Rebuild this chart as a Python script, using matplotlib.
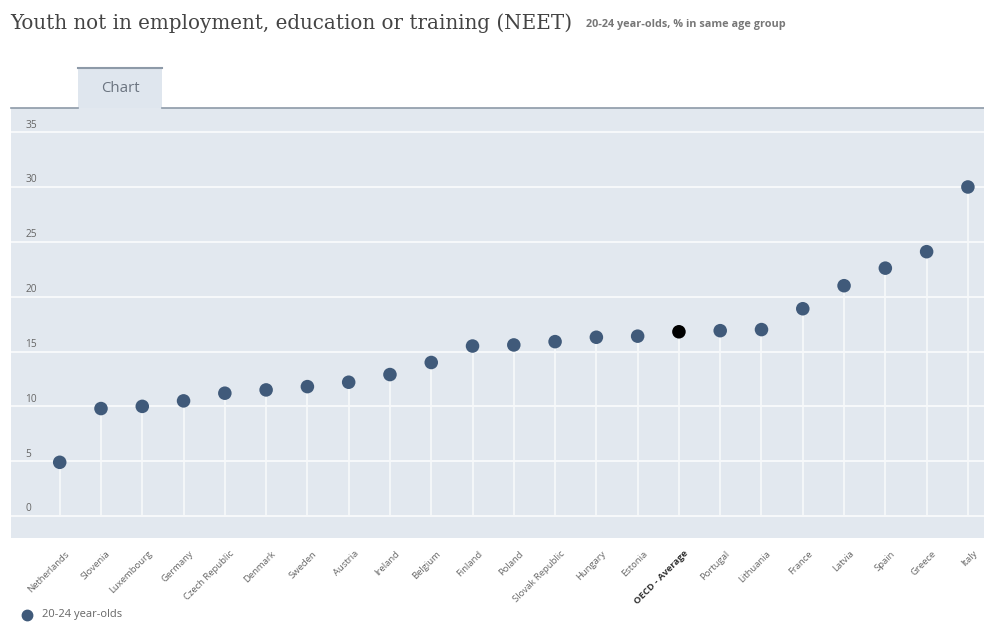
import matplotlib
matplotlib.use("Agg")
import matplotlib.pyplot as plt
from matplotlib.patches import Rectangle
from matplotlib.lines import Line2D
import matplotlib.transforms as mtransforms

# NEET rates, 20-24 year-olds (% of same age group)
countries = ["Netherlands", "Slovenia", "Luxembourg", "Germany", "Czech Republic",
             "Denmark", "Sweden", "Austria", "Ireland", "Belgium", "Finland",
             "Poland", "Slovak Republic", "Hungary", "Estonia", "OECD - Average",
             "Portugal", "Lithuania", "France", "Latvia", "Spain", "Greece", "Italy"]
values = [4.9, 9.8, 10.0, 10.5, 11.2, 11.5, 11.8, 12.2, 12.9, 14.0, 15.5,
          15.6, 15.9, 16.3, 16.4, 16.8, 16.9, 17.0, 18.9, 21.0, 22.6, 24.1, 30.0]
highlight = "OECD - Average"
y_ticks = [0, 5, 10, 15, 20, 25, 30, 35]

title = "Youth not in employment, education or training (NEET)"
subtitle = "20-24 year-olds, % in same age group"
series_name = "20-24 year-olds"
tab_label = "Chart"

BG = "#e2e8ef"
MARK = "#405a7a"
TEXT = "#666666"

W, H = 984, 622
fig = plt.figure(figsize=(W / 100, H / 100), dpi=100)
fig.patch.set_facecolor("white")

# plot area in pixel coordinates
left, right, top, bottom = 11, 984, 108, 538
ax = fig.add_axes([left / W, 1 - bottom / H, (right - left) / W, (bottom - top) / H])
ax.set_facecolor(BG)
for s in ax.spines.values():
    s.set_visible(False)

x = list(range(len(countries)))
ax.set_xlim(-1.18, len(countries) - 1 + 0.39)
ax.set_ylim(-2.0, 37.2)

ax.set_yticks(y_ticks)
ax.yaxis.grid(True, color="#f7f9fb", lw=1.4)
ax.set_axisbelow(True)
ax.tick_params(axis="y", length=0, labelleft=False)

# y tick labels drawn inside the plot, just above each gridline
for t in y_ticks:
    ax.text(0.0145, t + 0.65, str(t),
            transform=mtransforms.blended_transform_factory(ax.transAxes, ax.transData),
            ha="left", va="center", fontsize=7.3, color=TEXT, family="Open Sans")

# stems
ax.vlines(x, 0, values, color="#f7f9fb", lw=1.2, zorder=2)
colors = ["black" if c == highlight else MARK for c in countries]
ax.scatter(x, values, s=95, c=colors, zorder=3, linewidths=0)

ax.set_xticks(x)
ax.set_xticklabels(countries, rotation=45, ha="right", va="top", rotation_mode="anchor",
                   fontsize=6.8, color=TEXT, family="Open Sans")
ax.tick_params(axis="x", length=0, pad=8)
for lbl in ax.get_xticklabels():
    lbl.set_transform(lbl.get_transform() + mtransforms.ScaledTranslation(5 / 100, 0, fig.dpi_scale_trans))
    if lbl.get_text() == highlight:
        lbl.set_fontweight("bold")
        lbl.set_color("#333333")

# tab above the plot
def px(xp, yp):
    return xp / W, 1 - yp / H

tx0, tx1, ty0, ty1 = 78, 162, 68, 108
fig.patches.append(Rectangle(px(tx0, ty1), (tx1 - tx0) / W, (ty1 - ty0) / H,
                             transform=fig.transFigure, facecolor="#dfe6ee", edgecolor="none"))
fig.lines.append(Line2D([tx0 / W, tx1 / W], [1 - ty0 / H] * 2, transform=fig.transFigure,
                        color="#8d9aa8", lw=1.5))
fig.lines.append(Line2D([left / W, tx0 / W], [1 - ty1 / H] * 2, transform=fig.transFigure,
                        color="#8d9aa8", lw=1.2))
fig.lines.append(Line2D([tx1 / W, 1.0], [1 - ty1 / H] * 2, transform=fig.transFigure,
                        color="#8d9aa8", lw=1.2))
fig.text(*px((tx0 + tx1) / 2, 88), tab_label, ha="center", va="center", fontsize=10.8,
         color="#6b7480", family="Open Sans")

# titles
fig.text(*px(10, 23), title, ha="left", va="center", fontsize=14.3, color="#444444",
         family="DejaVu Serif")
fig.text(*px(586, 25), subtitle, ha="left", va="center", fontsize=7.8, color="#777777",
         fontweight="bold", family="Open Sans")

# legend
fig.lines.append(Line2D([27 / W], [1 - 615 / H], transform=fig.transFigure, marker="o",
                        markersize=7.5, color=MARK, lw=0))
fig.text(*px(42, 615), series_name, ha="left", va="center", fontsize=8.0, color=TEXT,
         family="Open Sans")

fig.savefig("out.png", dpi=100, facecolor="white")
